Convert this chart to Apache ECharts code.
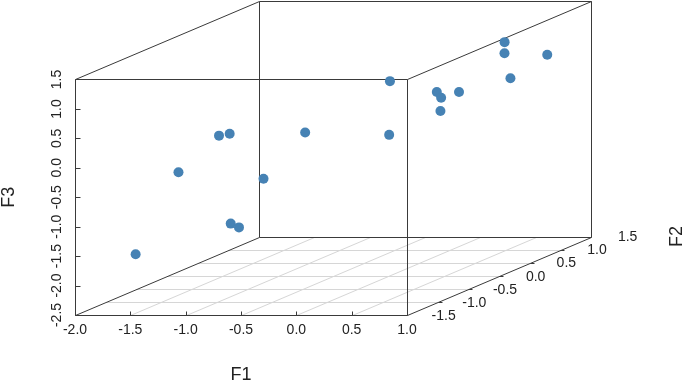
<!DOCTYPE html>
<html><head><meta charset="utf-8">
<script src="https://cdn.jsdelivr.net/npm/echarts@6/dist/echarts.min.js"></script>
<style>html,body{margin:0;padding:0;background:#fff}#c{width:685px;height:382px}</style>
</head><body><div id="c"></div>
<script>
// data (F1, F2, F3 scores)
const F1 = [-1.84, -1.73, -1.53, -1.60, -0.87, -0.74, -0.74, -0.53, 0.34, 0.07, 0.05, 0.20, 0.36, 0.14, 0.33, 0.44, 0.66, 0.66];
const F2 = [-1.3, -0.8, -0.5, -0.2, -1.5, -1.6, -1.2, -0.9, -1.1, -0.6, 0.2, 0.0, -0.3, 0.4, 0.8, 0.6, 0.3, 0.9];
const F3 = [-1.78, -0.61, -0.12, -0.22, -1.17, -1.19, -0.54, 0.11, 0.16, 0.85, 0.31, 0.30, 0.21, 0.22, 0.89, 0.79, 0.50, 0.63];

const F1_RANGE = [-2.0, 1.0];
const F2_RANGE = [-2.0, 1.0];
const F3_RANGE = [-2.5, 1.5];
const F1_TICKS = [-2.0, -1.5, -1.0, -0.5, 0.0, 0.5, 1.0];
const F2_TICKS = [-1.5, -1.0, -0.5, 0.0, 0.5];
const F2_LABELS = [-1.5, -1.0, -0.5, 0.0, 0.5, 1.0, 1.5];
const F3_TICKS = [-2.5, -2.0, -1.5, -1.0, -0.5, 0.0, 0.5, 1.0, 1.5];

// oblique projection: depth axis (F2) shifts in F1/F3 units
const DEPTH_X = 1.6626, DEPTH_Y = 1.3333;
function proj(f1, f2, f3) {
  const d = (f2 - F2_RANGE[0]) / (F2_RANGE[1] - F2_RANGE[0]);
  return [f1 + d * DEPTH_X, f3 + d * DEPTH_Y];
}
const fmt = v => v.toFixed(1);
const FONT = '"Liberation Sans", Arial, sans-serif';
const BOX = '#3a3a3a', GRID = '#d6d6d6';

function crisp(p) { return [Math.round(p[0]) + 0.5, Math.round(p[1]) + 0.5]; }
function line(api, a, b, color) {
  const p = crisp(api.coord(proj(a[0], a[1], a[2])));
  const q = crisp(api.coord(proj(b[0], b[1], b[2])));
  return { type: 'line', shape: { x1: p[0], y1: p[1], x2: q[0], y2: q[1] }, style: { stroke: color, lineWidth: 1 } };
}
function tick(api, a, dx, dy) {
  const p = crisp(api.coord(proj(a[0], a[1], a[2])));
  return { type: 'line', shape: { x1: p[0], y1: p[1], x2: p[0] + dx, y2: p[1] + dy }, style: { stroke: BOX, lineWidth: 1 } };
}

function renderFrame(params, api) {
  const ch = [];
  const [x0, x1] = F1_RANGE, [y0, y1] = F2_RANGE, [z0, z1] = F3_RANGE;
  // floor grid
  F2_TICKS.forEach(v => ch.push(line(api, [x0, v, z0], [x1, v, z0], GRID)));
  F1_TICKS.slice(1, -1).forEach(v => ch.push(line(api, [v, y0, z0], [v, y1, z0], GRID)));
  // box edges
  const E = [
    [[x0,y0,z0],[x1,y0,z0]], [[x0,y0,z1],[x1,y0,z1]], [[x0,y0,z0],[x0,y0,z1]], [[x1,y0,z0],[x1,y0,z1]],
    [[x0,y1,z0],[x1,y1,z0]], [[x0,y1,z1],[x1,y1,z1]], [[x0,y1,z0],[x0,y1,z1]], [[x1,y1,z0],[x1,y1,z1]],
    [[x0,y0,z0],[x0,y1,z0]], [[x1,y0,z0],[x1,y1,z0]], [[x0,y0,z1],[x0,y1,z1]], [[x1,y0,z1],[x1,y1,z1]]
  ];
  E.forEach(e => ch.push(line(api, e[0], e[1], BOX)));
  // ticks
  F1_TICKS.forEach(v => ch.push(tick(api, [v, y0, z0], 0, -4)));
  F3_TICKS.forEach(v => ch.push(tick(api, [x0, y0, v], 5, 0)));
  F2_TICKS.forEach(v => ch.push(tick(api, [x1, v, z0], 4, 0)));
  // F2 labels
  F2_LABELS.forEach(v => {
    const p = api.coord(proj(x1, v, z0));
    ch.push({ type: 'text', x: p[0] + 6, y: p[1] + 14, style: { text: fmt(v), fill: '#222', font: '14px ' + FONT, align: 'center', verticalAlign: 'middle' } });
  });
  // axis names
  const pF1 = api.coord(proj((x0 + x1) / 2, y0, z0));
  ch.push({ type: 'text', x: pF1[0], y: pF1[1] + 60, style: { text: 'F1', fill: '#222', font: '18px ' + FONT, align: 'center', verticalAlign: 'middle' } });
  const pF3 = api.coord(proj(x0, y0, (z0 + z1) / 2));
  ch.push({ type: 'text', x: pF3[0] - 66, y: pF3[1], rotation: Math.PI / 2, style: { text: 'F3', fill: '#222', font: '18px ' + FONT, align: 'center', verticalAlign: 'middle' } });
  const pF2 = api.coord(proj(x1, y1, z0));
  ch.push({ type: 'text', x: pF2[0] + 86, y: pF2[1], rotation: Math.PI / 2, style: { text: 'F2', fill: '#222', font: '18px ' + FONT, align: 'center', verticalAlign: 'middle' } });
  return { type: 'group', children: ch };
}

const chart = echarts.init(document.getElementById('c'), null, { renderer: 'canvas' });
chart.setOption({
  animation: false,
  backgroundColor: '#fff',
  grid: { left: 75, right: 94, top: 1, bottom: 67 },
  xAxis: {
    type: 'value', min: F1_RANGE[0], max: F1_RANGE[1] + DEPTH_X,
    splitLine: { show: false }, axisLine: { show: false, onZero: false }, axisTick: { show: false },
    axisLabel: { customValues: F1_TICKS, formatter: fmt, color: '#222', fontSize: 14, fontFamily: FONT, margin: 8 }
  },
  yAxis: {
    type: 'value', min: F3_RANGE[0], max: F3_RANGE[1] + DEPTH_Y,
    splitLine: { show: false }, axisLine: { show: false, onZero: false }, axisTick: { show: false },
    axisLabel: { customValues: F3_TICKS, formatter: fmt, rotate: 90, color: '#222', fontSize: 14, fontFamily: FONT, margin: 11 }
  },
  series: [
    { type: 'custom', renderItem: renderFrame, data: [[0, 0]], silent: true, z: 1 },
    {
      type: 'scatter', z: 5, symbol: 'circle', symbolSize: 10,
      itemStyle: { color: '#4682B4', opacity: 1 },
      data: F1.map((v, i) => proj(v, F2[i], F3[i]))
    }
  ]
});
</script></body></html>
